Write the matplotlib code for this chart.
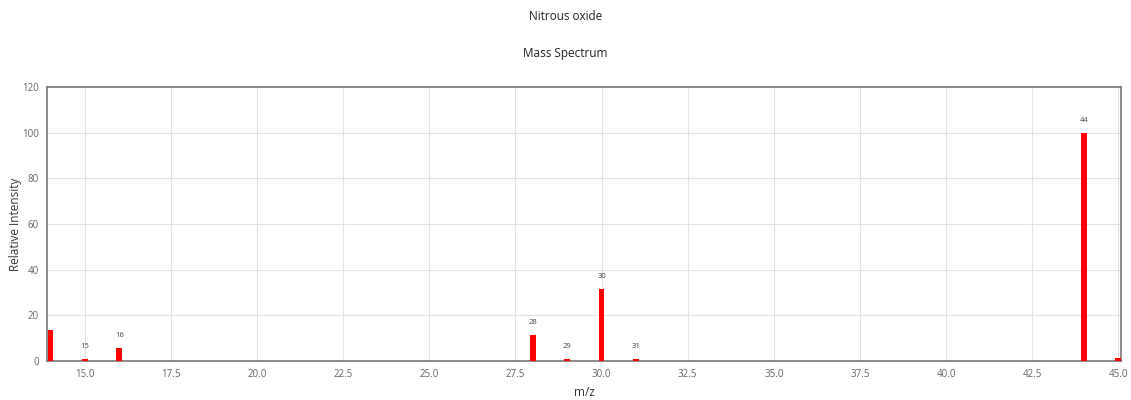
import matplotlib.pyplot as plt

# datos del espectro
mz = [14, 15, 16, 28, 29, 30, 31, 44, 45]
intensidad = [13.5, 1.0, 5.6, 11.3, 1.0, 31.6, 1.0, 100.0, 1.4]
etiquetas = ["", "15", "16", "28", "29", "30", "31", "44", ""]

plt.rcParams['font.family'] = ['Open Sans', 'DejaVu Sans']

fig = plt.figure(figsize=(11.31, 4), dpi=100)
ax = fig.add_axes([47 / 1131, 1 - 361 / 400, (1121 - 47) / 1131, (361 - 87) / 400])

ax.bar(mz, intensidad, width=0.17, color='#ff0000', zorder=3)
for x, y, t in zip(mz, intensidad, etiquetas):
    if t:
        ax.text(x, y + 4, t, ha='center', va='bottom', fontsize=5.5, color='#444444')

ax.set_xlim(13.9, 45.08)
ax.set_ylim(0, 120)
ax.set_xticks([15, 17.5, 20, 22.5, 25, 27.5, 30, 32.5, 35, 37.5, 40, 42.5, 45])
ax.set_xticklabels(['15.0', '17.5', '20.0', '22.5', '25.0', '27.5', '30.0', '32.5',
                    '35.0', '37.5', '40.0', '42.5', '45.0'])
ax.set_yticks(range(0, 121, 20))
ax.grid(True, color='#e3e3e3', linewidth=0.8, zorder=0)
ax.tick_params(axis='both', length=0, labelsize=7, colors='#666666', pad=6)
for s in ax.spines.values():
    s.set_color('#777777')
    s.set_linewidth(1.2)

ax.set_xlabel('m/z', fontsize=8.5, color='#333333')
ax.set_ylabel('Relative Intensity', fontsize=8.5, color='#333333')
ax.xaxis.set_label_coords(0.5, -(393 - 361) / 274, transform=ax.transAxes)
ax.yaxis.set_label_coords(-(47 - 16) / 1074, 0.5, transform=ax.transAxes)
ax.xaxis.label.set_va('center')
ax.yaxis.label.set_va('center')

fig.text(0.5, 1 - 17 / 400, 'Nitrous oxide', ha='center', va='center', fontsize=8.5, color='#222222')
fig.text(0.5, 1 - 54 / 400, 'Mass Spectrum', ha='center', va='center', fontsize=8.5, color='#222222')

fig.savefig('out.png', dpi=100)
